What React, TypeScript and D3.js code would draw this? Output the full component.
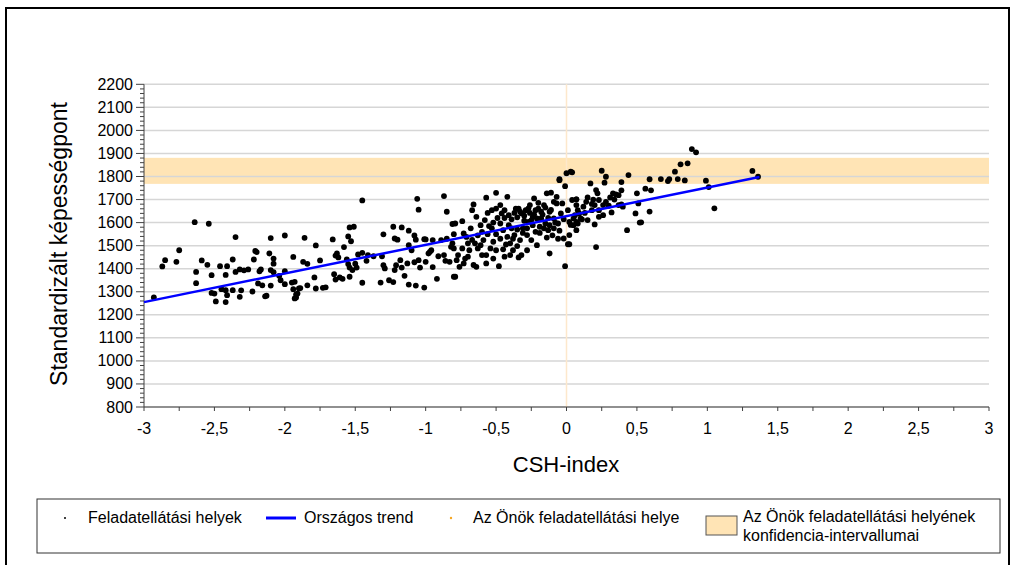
import React from "react";
import * as d3 from "d3";

// CSH-index vs standardised score, one dot per site
const sites: [number, number][] = [
  [-2.93, 1275], [-2.87, 1410], [-2.85, 1437], [-2.77, 1430], [-2.75, 1480], [-2.64, 1602],
  [-2.54, 1595], [-2.59, 1436], [-2.55, 1417], [-2.63, 1386], [-2.63, 1337], [-2.52, 1372],
  [-2.52, 1295], [-2.5, 1292], [-2.49, 1258], [-2.46, 1411], [-2.45, 1311], [-2.42, 1307],
  [-2.41, 1285], [-2.42, 1255], [-2.41, 1411], [-2.42, 1373], [-2.37, 1440], [-2.37, 1307],
  [-2.35, 1537], [-2.35, 1386], [-2.32, 1397], [-2.32, 1278], [-2.31, 1306], [-2.29, 1393],
  [-2.26, 1397], [-2.23, 1301], [-2.22, 1440], [-2.21, 1477], [-2.2, 1472], [-2.19, 1336],
  [-2.18, 1389], [-2.17, 1397], [-2.16, 1328], [-2.14, 1280], [-2.13, 1283], [-2.11, 1466],
  [-2.1, 1327], [-2.1, 1533], [-2.1, 1394], [-2.08, 1444], [-2.08, 1422], [-2.08, 1385],
  [-2.04, 1369], [-2.03, 1350], [-2.0, 1544], [-2.0, 1389], [-2.0, 1333], [-1.95, 1340],
  [-1.94, 1451], [-1.93, 1343], [-1.94, 1311], [-1.93, 1271], [-1.92, 1289], [-1.9, 1314],
  [-1.45, 1696], [-1.06, 1703], [-0.87, 1715], [-1.05, 1656], [-0.85, 1647], [-0.81, 1594],
  [-1.54, 1579], [-1.51, 1582], [-1.3, 1549], [-1.23, 1582], [-1.17, 1579], [-1.12, 1565],
  [-1.86, 1534], [-1.66, 1527], [-1.53, 1519], [-1.78, 1501], [-1.58, 1494], [-1.2, 1526],
  [-1.08, 1544], [-1.07, 1526], [-1.01, 1528], [-1.0, 1527], [-0.95, 1524], [-0.89, 1524],
  [-0.85, 1530], [-0.96, 1480], [-1.87, 1430], [-1.84, 1421], [-1.75, 1436], [-1.64, 1457],
  [-1.62, 1449], [-1.65, 1376], [-1.64, 1353], [-1.61, 1362], [-1.59, 1356], [-1.79, 1362],
  [-1.78, 1314], [-1.84, 1328], [-1.89, 1316], [-1.73, 1317], [-1.71, 1319], [-1.91, 1292],
  [-1.92, 1275], [-1.56, 1440], [-1.55, 1420], [-1.54, 1405], [-1.52, 1394], [-1.5, 1422],
  [-1.49, 1405], [-1.54, 1365], [-1.48, 1462], [-1.45, 1469], [-1.42, 1434], [-1.41, 1459],
  [-1.45, 1339], [-1.37, 1454], [-1.32, 1340], [-1.31, 1454], [-1.3, 1415], [-1.29, 1401],
  [-1.26, 1350], [-1.23, 1342], [-1.22, 1394], [-1.21, 1415], [-1.18, 1437], [-1.17, 1405],
  [-1.15, 1369], [-1.13, 1423], [-1.12, 1331], [-1.1, 1480], [-1.08, 1428], [-1.07, 1327],
  [-1.05, 1437], [-1.04, 1405], [-1.01, 1318], [-1.0, 1430], [-0.98, 1466], [-0.97, 1473],
  [-0.95, 1407], [-0.92, 1356], [-0.91, 1454], [-0.87, 1459], [-0.86, 1434], [-0.83, 1430],
  [-0.82, 1495], [-0.8, 1365], [-1.12, 1502], [-1.63, 1466], [-1.55, 1540], [-1.22, 1531],
  [-0.05, 1788], [0.0, 1814], [0.03, 1821], [-0.01, 1758], [-0.01, 1411], [-0.79, 1365],
  [-0.57, 1708], [-0.5, 1729], [-0.42, 1712], [-0.66, 1679], [-0.67, 1654], [-0.74, 1606],
  [-0.79, 1596], [-0.8, 1550], [-0.73, 1553], [-0.68, 1575], [-0.64, 1625], [-0.61, 1589],
  [-0.58, 1611], [-0.56, 1642], [-0.53, 1654], [-0.5, 1661], [-0.47, 1676], [-0.44, 1654],
  [-0.41, 1632], [-0.39, 1614], [-0.35, 1623], [-0.32, 1640], [-0.29, 1654], [-0.26, 1676],
  [-0.23, 1705], [-0.2, 1686], [-0.16, 1676], [-0.14, 1727], [-0.11, 1730], [-0.07, 1712],
  [-0.07, 1683], [-0.03, 1683], [0.01, 1654], [0.07, 1701], [0.02, 1603], [-0.12, 1647],
  [-0.09, 1618], [-0.06, 1596], [-0.13, 1567], [-0.14, 1535], [-0.02, 1531], [0.01, 1506],
  [-0.12, 1466], [-0.19, 1582], [-0.22, 1560], [-0.25, 1524], [-0.28, 1546], [-0.31, 1575],
  [-0.33, 1524], [-0.35, 1498], [-0.32, 1459], [-0.34, 1449], [-0.38, 1480], [-0.4, 1510],
  [-0.42, 1538], [-0.45, 1567], [-0.47, 1596], [-0.5, 1550], [-0.52, 1517], [-0.54, 1488],
  [-0.52, 1444], [-0.45, 1484], [-0.44, 1452], [-0.48, 1411], [-0.57, 1423], [-0.64, 1408],
  [-0.66, 1416], [-0.6, 1459], [-0.63, 1488], [-0.65, 1510], [-0.69, 1480], [-0.71, 1538],
  [-0.74, 1488], [-0.77, 1459], [-0.78, 1437], [-0.72, 1444], [-0.76, 1408], [-0.73, 1423],
  [-0.7, 1452], [-0.81, 1510], [-0.8, 1488], [-0.28, 1480], [-0.21, 1502], [-0.27, 1603],
  [-0.24, 1625], [-0.21, 1618], [-0.18, 1618], [-0.15, 1596], [-0.12, 1589], [-0.09, 1575],
  [-0.05, 1565], [0.05, 1618], [0.07, 1603], [0.07, 1567], [0.02, 1546], [-0.3, 1608],
  [-0.39, 1575], [-0.37, 1546], [-0.41, 1589], [-0.53, 1575], [-0.56, 1550], [-0.59, 1524],
  [-0.61, 1502], [-0.5, 1480], [-0.4, 1459], [-0.57, 1459], [-0.28, 1575], [-0.24, 1589],
  [-0.34, 1661], [-0.37, 1642], [-0.26, 1642], [-0.22, 1654], [-0.18, 1647], [-0.09, 1690],
  [-0.36, 1660], [-0.33, 1648], [-0.3, 1630], [-0.27, 1662], [-0.25, 1610], [-0.23, 1635],
  [-0.2, 1660], [-0.17, 1635], [-0.15, 1665], [-0.13, 1620], [-0.11, 1655], [-0.08, 1600],
  [-0.04, 1640], [-0.02, 1615], [-0.44, 1620], [-0.46, 1640], [-0.49, 1620], [-0.52, 1600],
  [-0.55, 1585], [-0.6, 1560], [-0.63, 1545], [-0.67, 1525], [-0.7, 1510], [-0.47, 1530],
  [-0.43, 1505], [-0.38, 1530], [-0.35, 1570], [-0.31, 1555], [-0.19, 1555], [-0.16, 1575],
  [-0.1, 1545], [-0.06, 1530], [0.03, 1590], [0.09, 1640], [0.14, 1690], [0.19, 1700],
  [0.28, 1690], [0.34, 1700],
  [0.89, 1919], [0.92, 1905], [1.32, 1824], [1.36, 1799], [0.81, 1853], [0.86, 1857],
  [0.77, 1821], [0.79, 1789], [0.84, 1783], [0.73, 1789], [0.72, 1780], [0.67, 1789],
  [0.59, 1788], [0.99, 1782], [1.01, 1754], [1.05, 1662], [0.04, 1818], [0.25, 1825],
  [0.28, 1799], [0.27, 1773], [0.44, 1806], [0.39, 1776], [0.17, 1770], [0.56, 1747],
  [0.6, 1740], [0.39, 1740], [0.5, 1727], [0.33, 1727], [0.35, 1722], [0.37, 1719],
  [0.31, 1709], [0.21, 1741], [0.22, 1727], [0.23, 1698], [0.15, 1709], [0.07, 1701],
  [0.18, 1681], [0.2, 1676], [0.26, 1676], [0.3, 1673], [0.37, 1676], [0.4, 1669],
  [0.51, 1683], [0.39, 1679], [0.18, 1654], [0.23, 1654], [0.32, 1644], [0.26, 1632],
  [0.23, 1625], [0.49, 1640], [0.59, 1648], [0.15, 1611], [0.2, 1592], [0.11, 1614],
  [0.53, 1601], [0.43, 1567], [0.21, 1494], [0.02, 1506], [0.04, 1698], [0.07, 1676],
  [0.08, 1654], [0.06, 1632], [0.1, 1618], [0.05, 1589], [0.08, 1596], [0.12, 1669],
  [0.13, 1642], [-0.05, 1784], [0.52, 1600],
];

const trendX = [-3, 1.37];
const trendY = [1255, 1798];
const ciLow = 1768;
const ciHigh = 1881;
const ownX = 0;

const xTicks = [-3, -2.5, -2, -1.5, -1, -0.5, 0, 0.5, 1, 1.5, 2, 2.5, 3];
const yTicks = d3.range(800, 2201, 100);

const legendItems = ["Feladatellátási helyek", "Országos trend", "Az Önök feladatellátási helye"];
const legendCi = ["Az Önök feladatellátási helyének", "konfidencia-intervallumai"];

const FONT = "'Liberation Sans', Arial, sans-serif";

export default function App() {
  const x = d3.scaleLinear().domain([-3, 3]).range([144, 989]);
  const y = d3.scaleLinear().domain([800, 2200]).range([407, 84.3]);
  const fmt = (v: number) => String(v).replace(".", ",");
  const yMinor = d3.range(800, 2201, 20);
  const xMinor = d3.range(-3, 3.001, 0.25);

  return (
    <svg width={1017} height={565} style={{ position: "absolute", left: 0, top: 0 }} fontFamily={FONT}>
      <rect x={0} y={0} width={1017} height={565} fill="#fff" />
      <rect x={6} y={8} width={1003} height={570} fill="none" stroke="#000" strokeWidth={2} />

      {/* confidence band */}
      <rect x={x(-3)} y={y(ciHigh)} width={x(3) - x(-3)} height={y(ciLow) - y(ciHigh)} fill="#ffe4b5" />

      {yTicks.map(t => (
        <line key={t} x1={x(-3)} x2={x(3)} y1={y(t)} y2={y(t)} stroke="#d6d6d6" strokeWidth={1.5} />
      ))}
      <line x1={x(ownX)} x2={x(ownX)} y1={y(2200)} y2={y(800)} stroke="#fde8cc" strokeWidth={1.5} />

      {/* axes */}
      <line x1={x(-3)} x2={x(-3)} y1={y(2200)} y2={y(800)} stroke="#404040" strokeWidth={1} />
      <line x1={x(-3)} x2={x(3)} y1={y(800)} y2={y(800)} stroke="#404040" strokeWidth={1} />
      {yMinor.map(t => (
        <line key={t} x1={x(-3) - (t % 100 === 0 ? 8 : 4)} x2={x(-3)} y1={y(t)} y2={y(t)} stroke="#404040" strokeWidth={1} />
      ))}
      {xMinor.map(t => (
        <line key={t} x1={x(t)} x2={x(t)} y1={y(800)} y2={y(800) + 4} stroke="#404040" strokeWidth={1} />
      ))}
      {yTicks.map(t => (
        <text key={t} x={133} y={y(t) + 5.5} textAnchor="end" fontSize={16} fill="#000">{t}</text>
      ))}
      {xTicks.map(t => (
        <text key={t} x={x(t)} y={433.5} textAnchor="middle" fontSize={16} fill="#000">{fmt(t)}</text>
      ))}

      <text x={566} y={472} textAnchor="middle" fontSize={22} fill="#000">CSH-index</text>
      <text transform="translate(67,244) rotate(-90)" textAnchor="middle" fontSize={23} fill="#000">
        Standardizált képességpont
      </text>

      {/* points */}
      {sites.map((d, i) => (
        <circle key={i} cx={x(d[0])} cy={y(d[1])} r={2.9} fill="#000" />
      ))}
      <line x1={x(trendX[0])} x2={x(trendX[1])} y1={y(trendY[0])} y2={y(trendY[1])} stroke="#0000ff" strokeWidth={2.5} />

      {/* legend */}
      <rect x={37} y={499} width={963} height={54} fill="#fff" stroke="#333" strokeWidth={1} />
      <circle cx={65} cy={518} r={1} fill="#000" />
      <text x={88} y={523} fontSize={16} fill="#000">{legendItems[0]}</text>
      <line x1={266} x2={296} y1={518} y2={518} stroke="#0000ff" strokeWidth={3} />
      <text x={304} y={523} fontSize={16} fill="#000">{legendItems[1]}</text>
      <circle cx={451} cy={518} r={1.2} fill="#f5a623" />
      <text x={473} y={523} fontSize={16} fill="#000">{legendItems[2]}</text>
      <rect x={706} y={516} width={31} height={19} fill="#ffe4b5" stroke="#555" strokeWidth={1} />
      <text x={743} y={522} fontSize={16} fill="#000">{legendCi[0]}</text>
      <text x={743} y={541} fontSize={16} fill="#000">{legendCi[1]}</text>
    </svg>
  );
}
